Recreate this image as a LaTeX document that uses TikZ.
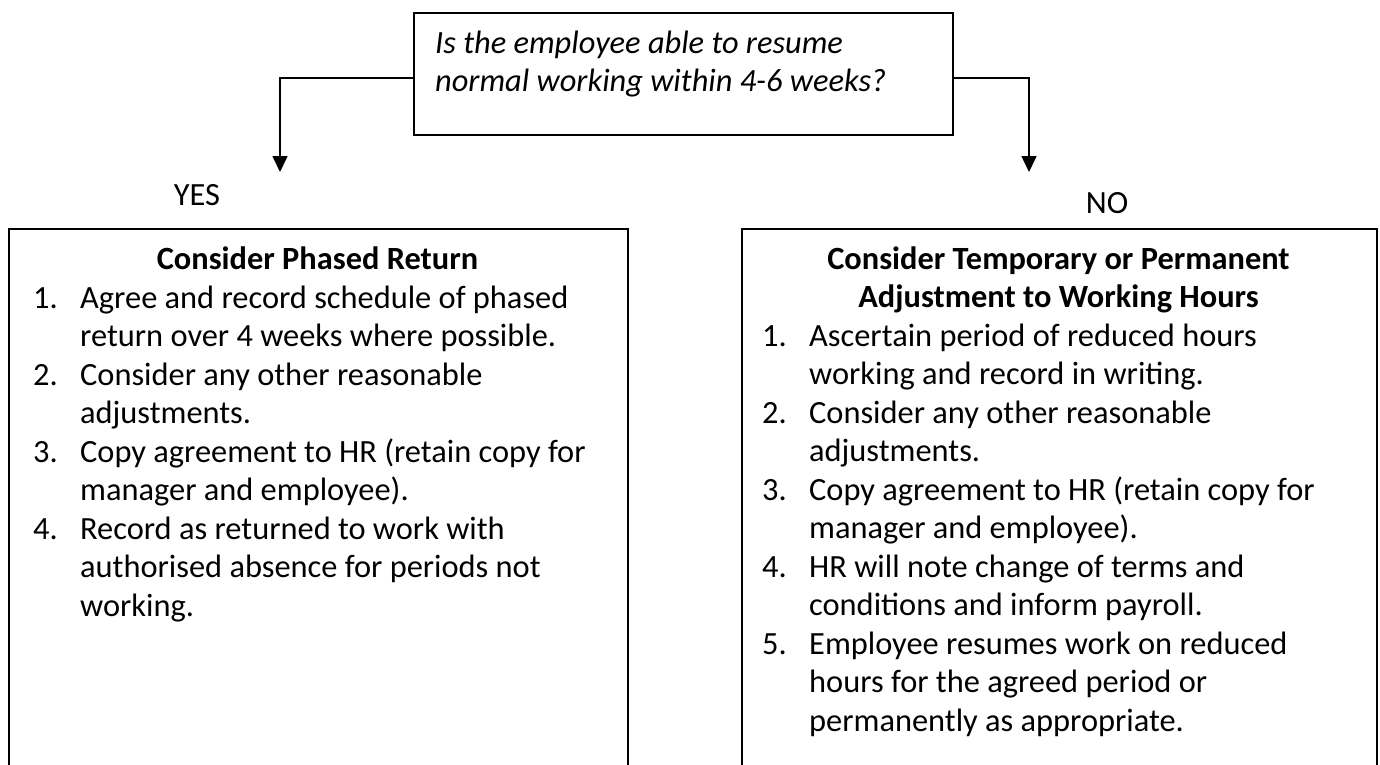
\documentclass[tikz,border=0pt]{standalone}
\usepackage{fontspec}
\setmainfont{Carlito}
\usetikzlibrary{arrows.meta}
\newcommand{\itemno}[1]{\makebox[47pt][l]{#1}}
\newcommand{\bodysize}{\fontsize{32.4}{38.5}\selectfont}
\begin{document}
\begin{tikzpicture}[x=1pt,y=-1pt,
  box/.style={draw, line width=2pt, rectangle, inner sep=0pt, anchor=north west},
  flow/.style={line width=1.6pt, -{Triangle[width=15pt,length=16pt]}},
  txt/.style={inner sep=0pt, font=\bodysize},
  lst/.style={txt, anchor=base west},
  ]
\useasboundingbox (0,0) rectangle (1380,764);
\fill[white] (0,0) rectangle (1380,764);

% boxes (the two lower boxes run on past the bottom edge)
\begin{scope}
  \clip (0,0) rectangle (1380,764);
  \node[box, minimum width=539pt, minimum height=122pt] (q) at (413,12) {};
  \node[box, minimum width=619pt, minimum height=580pt] (yesbox) at (8,228) {};
  \node[box, minimum width=635pt, minimum height=580pt] (nobox) at (741,228) {};
\end{scope}

% question
\node[lst, font=\bodysize\itshape] (qtext) at (435,53)
  {\begin{tabular}[t]{@{}l@{}}Is the employee able to resume\\normal working within 4-6 weeks?\end{tabular}};

% branches
\coordinate (yesturn) at (280,78);
\coordinate (yestip) at (280,172);
\coordinate (noturn) at (1029,78);
\coordinate (notip) at (1029,172);
\draw[flow] (q.west |- yesturn) -- (yesturn) -- (yestip);
\draw[flow] (q.east |- noturn) -- (noturn) -- (notip);

\node[txt] (yes) at (197,195) {YES};
\node[txt] (no) at (1107,203) {NO};

% phased return
\node[txt, anchor=base, font=\bodysize\bfseries] (yeshead) at (317.5,269) {Consider Phased Return};
\node[lst] (yeslist) at (33,308) {\begin{tabular}[t]{@{}l@{}}
\itemno{1.}Agree and record schedule of phased\\
\itemno{}return over 4 weeks where possible.\\
\itemno{2.}Consider any other reasonable\\
\itemno{}adjustments.\\
\itemno{3.}Copy agreement to HR (retain copy for\\
\itemno{}manager and employee).\\
\itemno{4.}Record as returned to work with\\
\itemno{}authorised absence for periods not\\
\itemno{}working.
\end{tabular}};

% adjusted hours
\node[txt, anchor=base, font=\bodysize\bfseries] (nohead) at (1058.5,269)
  {\begin{tabular}[t]{@{}c@{}}Consider Temporary or Permanent\\Adjustment to Working Hours\end{tabular}};
\node[lst] (nolist) at (762,346) {\begin{tabular}[t]{@{}l@{}}
\itemno{1.}Ascertain period of reduced hours\\
\itemno{}working and record in writing.\\
\itemno{2.}Consider any other reasonable\\
\itemno{}adjustments.\\
\itemno{3.}Copy agreement to HR (retain copy for\\
\itemno{}manager and employee).\\
\itemno{4.}HR will note change of terms and\\
\itemno{}conditions and inform payroll.\\
\itemno{5.}Employee resumes work on reduced\\
\itemno{}hours for the agreed period or\\
\itemno{}permanently as appropriate.
\end{tabular}};
\end{tikzpicture}
\end{document}
